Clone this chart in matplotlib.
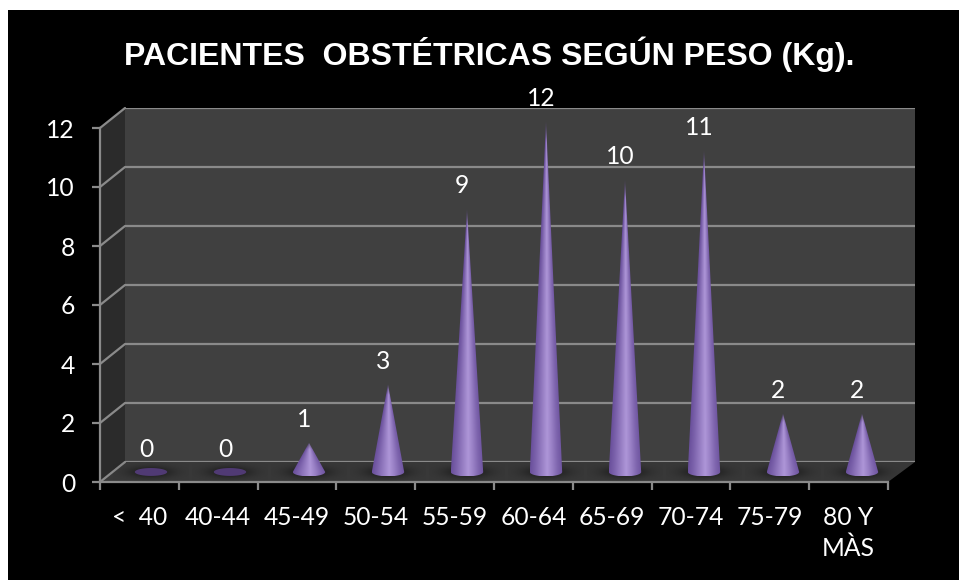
import numpy as np
import matplotlib
matplotlib.use("Agg")
from matplotlib import pyplot as plt
from matplotlib.path import Path
from matplotlib.patches import Polygon, Rectangle, PathPatch

categories = ["<  40", "40-44", "45-49", "50-54", "55-59", "60-64", "65-69", "70-74", "75-79", "80 Y\nMÀS"]
patients = [0, 0, 1, 3, 9, 12, 10, 11, 2, 2]
y_ticks = [0, 2, 4, 6, 8, 10, 12]
title = "PACIENTES  OBSTÉTRICAS SEGÚN PESO (Kg)."

W, H = 959, 580
GRID = "#8a8a8a"
FONT = 17.7
plt.rcParams["font.family"] = ["Lato", "DejaVu Sans"]

fig = plt.figure(figsize=(W / 100, H / 100), dpi=100, facecolor="white")


def box(x0, y_top, x1, y_bottom):
    # axes rectangle from pixel edges, y counted from the top
    return [x0 / W, 1 - y_bottom / H, (x1 - x0) / W, (y_bottom - y_top) / H]


# black panel, side wall and floor of the 3d box
bg = fig.add_axes([0, 0, 1, 1], zorder=0)
bg.set_xlim(0, W)
bg.set_ylim(H, 0)
bg.axis("off")
bg.add_patch(Rectangle((8, 10), W - 8, H - 10, color="black", lw=0))
bg.add_patch(Polygon([(100, 482), (125, 462), (125, 108), (100, 128)], color="#2b2b2b", lw=0))
bg.add_patch(Polygon([(100, 482), (125, 462), (915, 462), (888, 482)], color="#383838", lw=0))
for v in y_ticks:
    dy = 29.5 * v
    bg.plot([100, 125], [482 - dy, 462 - dy], color=GRID, lw=1.6, solid_capstyle="round")
bg.text(489, 54, title, family="Liberation Sans", weight="bold", fontsize=23,
        color="white", ha="center", va="center")

# back wall with the value gridlines
wall = fig.add_axes(box(125, 108, 915, 462), zorder=1, facecolor="#404040")
wall.set_xlim(0, 10)
wall.set_ylim(0, 12)
wall.set_xticks([])
wall.set_yticks(y_ticks)
wall.tick_params(length=0, labelleft=False)
wall.grid(axis="y", color=GRID, lw=1.6)
for s in wall.spines.values():
    s.set_visible(False)

# front axes carrying the ticks and labels
front = fig.add_axes(box(100, 128, 888, 482), zorder=2, facecolor="none")
front.set_xlim(0, 10)
front.set_ylim(0, 12)
front.set_yticks(y_ticks)
front.set_xticks(range(11))
front.set_xticklabels([])
front.set_xticks(np.arange(10) + 0.5, categories, minor=True)
front.tick_params(axis="x", which="major", color=GRID, width=1.6, length=6)
front.tick_params(axis="x", which="minor", length=0, pad=17, labelcolor="white", labelsize=FONT)
front.tick_params(axis="y", color=GRID, width=1.6, length=6, pad=12, labelcolor="white", labelsize=FONT)
for label in front.get_xticklabels(minor=True):
    label.set_linespacing(1.42)
for name in ("top", "right"):
    front.spines[name].set_visible(False)
for name in ("left", "bottom"):
    front.spines[name].set_color(GRID)
    front.spines[name].set_linewidth(1.6)

# cones, standing on a baseline set back from the front edge
# 29.25 px per unit, with half a unit below zero so the rims are not cut
cones = fig.add_axes(box(111.5, 121, 901.5, 486.6), zorder=3, facecolor="none")
cones.axis("off")

half_w = 0.205
half_h = 0.15
t = np.linspace(0, np.pi, 40)
# brightness across a cone, left edge to right edge
shade_u = [-1, -0.7, -0.3, 0.05, 0.35, 0.7, 1]
shade = [0.0, 0.25, 0.65, 1.0, 0.7, 0.3, 0.05]
edge_col = np.array([0x6a, 0x50, 0x9c]) / 255
light_col = np.array([0xae, 0x96, 0xd8]) / 255

for i, v in enumerate(patients):
    cx = i + 0.5
    # soft shadow on the floor
    gx, gy = np.meshgrid(np.linspace(-1, 1, 80), np.linspace(-1, 1, 40))
    shadow = np.zeros((40, 80, 4))
    shadow[..., 3] = 0.55 * np.exp(-(gx ** 2 + gy ** 2) * 3.0)
    cones.imshow(shadow, extent=[cx - 0.48, cx + 0.48, -0.34, 0.34], aspect="auto", zorder=1)
    if v == 0:
        t2 = np.linspace(0, 2 * np.pi, 60)
        cones.fill(cx + half_w * np.cos(t2), half_h * np.sin(t2) * 0.9, color="#503a74", lw=0, zorder=2)
        continue
    # outline: tip, then down one side and round the near rim of the base
    rim_x = cx + half_w * np.cos(t)
    rim_y = -half_h * np.sin(t)
    outline = Path([(cx, v)] + list(zip(rim_x, rim_y)) + [(cx, v)])
    # highlight follows the taper of the cone
    xs = np.linspace(-half_w, half_w, 64)
    ys = np.linspace(v, -half_h, 256)
    gx, gy = np.meshgrid(xs, ys)
    widths = half_w * np.clip((v - gy) / v, 0.002, 1)
    amount = np.interp(np.clip(gx / widths, -1, 1), shade_u, shade)
    rgba = np.ones((256, 64, 4))
    rgba[..., :3] = edge_col + (light_col - edge_col) * amount[..., None]
    # tips thin out and fade into the wall
    from_top = (v - gy) * 29.3
    rgba[..., 3] = np.clip(0.35 + from_top / min(30, 8 + 3 * v), 0.35, 1)
    im = cones.imshow(rgba, extent=[cx - half_w, cx + half_w, -half_h, v], aspect="auto", zorder=3)
    clip = PathPatch(outline, transform=cones.transData, fc="none", lw=0)
    cones.add_patch(clip)
    im.set_clip_path(clip)
cones.set_xlim(0, 10)
cones.set_ylim(-0.5, 12)

for i, v in enumerate(patients):
    cones.annotate(str(v), (i + 0.5, v), xytext=(-3.5, 16.5), textcoords="offset points",
                   color="white", fontsize=FONT, ha="center", va="center", zorder=5, annotation_clip=False)

fig.savefig("out.png", dpi=100, facecolor="white")
